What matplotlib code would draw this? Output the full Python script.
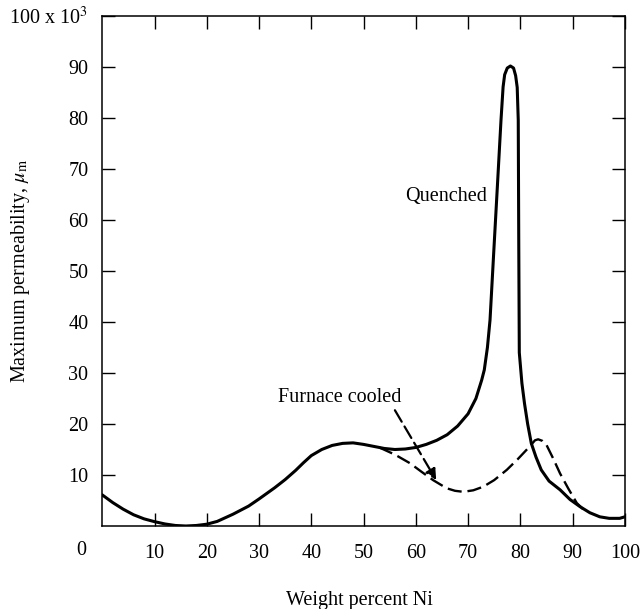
import matplotlib
matplotlib.use('Agg')
import matplotlib.pyplot as plt

plt.rcParams['font.family'] = 'Liberation Serif'
plt.rcParams['mathtext.fontset'] = 'stix'

# Quenched (solid) curve
q_x = [0, 2, 4, 6, 8, 10, 12, 14, 16, 18, 20, 22, 25, 28, 30, 33, 35, 37,
       38.5, 40, 42, 44, 46, 48, 50, 52, 54, 56, 58, 60, 62, 64, 66, 68, 70,
       71.5, 72.6, 73.1, 73.7, 74.2, 74.9, 75.6, 76.3, 76.7, 77.0, 77.5,
       78.1, 78.7, 79.1, 79.4, 79.6, 79.7, 79.8, 80.3, 80.8, 81.4, 82.1,
       83.0, 84.0, 85.5, 87.6, 89.5, 91.4, 93.3, 95.2, 97.0, 99.0, 100]
q_y = [6.1, 4.6, 3.3, 2.2, 1.4, 0.85, 0.4, 0.1, 0.0, 0.1, 0.35, 0.9, 2.3,
       3.9, 5.3, 7.5, 9.1, 10.9, 12.4, 13.8, 15.0, 15.8, 16.2, 16.3, 16.0,
       15.6, 15.2, 15.0, 15.1, 15.4, 16.0, 16.8, 17.9, 19.6, 22.0, 25.0,
       28.6, 30.6, 35.0, 40.4, 53.5, 66.5, 79.6, 86.1, 88.5, 89.8, 90.2,
       89.8, 88.3, 86.0, 79.6, 55.0, 34.0, 28.0, 24.0, 20.0, 16.2, 13.5,
       11.0, 8.8, 7.1, 5.2, 3.8, 2.6, 1.8, 1.5, 1.5, 1.8]

# Furnace cooled (dashed) branch
f_x = [53.0, 56.0, 58.9, 61.0, 63.3, 65.9, 67.5, 69.1, 71.0, 72.9, 75.0,
       77.4, 79.5, 81.8, 82.8, 83.4, 84.2, 85.0, 86.3, 87.6, 89.2, 90.8, 92.0]
f_y = [15.4, 14.0, 12.3, 10.7, 9.0, 7.4, 6.9, 6.7, 7.0, 7.7, 9.0, 11.0,
       13.1, 15.6, 16.8, 17.0, 16.7, 15.9, 13.2, 10.3, 7.3, 4.5, 3.3]

x_ticks = [10, 20, 30, 40, 50, 60, 70, 80, 90, 100]
y_ticks = [10, 20, 30, 40, 50, 60, 70, 80, 90, 100]
y_labels = ['10', '20', '30', '40', '50', '60', '70', '80', '90', r'100 x 10$^3$']

fig = plt.figure(figsize=(6.43, 6.09), dpi=100)
ax = fig.add_axes([0.159, 0.1363, 0.8128, 0.8374])

ax.plot(q_x, q_y, color='black', lw=2.2, solid_capstyle='round')
ax.plot(f_x, f_y, color='black', lw=1.7, dashes=(6, 2.5))

ax.annotate('', xy=(63.9, 9.0), xytext=(56.0, 22.7),
            arrowprops=dict(arrowstyle='-|>', color='black', lw=1.6,
                            linestyle=(0, (6, 2.5)), mutation_scale=16,
                            shrinkA=0, shrinkB=0))

ax.text(45.5, 25.1, 'Furnace cooled', fontsize=14.5, ha='center', va='center')
ax.text(65.7, 64.6, 'Quenched', fontsize=14.5, ha='center', va='center')

ax.set_xlim(0, 100)
ax.set_ylim(0, 100)
ax.set_xticks(x_ticks)
ax.set_yticks(y_ticks)
ax.set_yticklabels(y_labels)
ax.tick_params(direction='in', length=9.5, width=1.0, top=True, right=True,
               labelsize=14.5)
ax.tick_params(axis='x', pad=13)
ax.tick_params(axis='y', pad=10)
for s in ax.spines.values():
    s.set_linewidth(1.1)

ax.text(-0.041, -0.049, '0', transform=ax.transAxes, fontsize=14.5,
        ha='center', va='center')

ax.set_xlabel('Weight percent Ni', fontsize=14.5)
ax.xaxis.set_label_coords(0.493, -0.128)
ax.set_ylabel(r'Maximum permeability, $\mu_{\rm m}$', fontsize=14.5)
ax.yaxis.set_label_coords(-0.135, 0.5)

fig.savefig('out.png', dpi=100)
